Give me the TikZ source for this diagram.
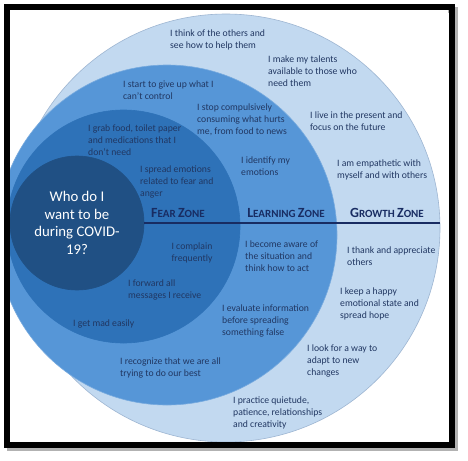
\documentclass[tikz,border=0pt]{standalone}
\usepackage{fontspec}
\setmainfont{Carlito}
\usetikzlibrary{positioning}
\definecolor{azulclaro}{RGB}{194,217,240}
\definecolor{azulmedio}{RGB}{86,150,215}
\definecolor{azulmedo}{RGB}{46,114,184}
\definecolor{azulescuro}{RGB}{32,80,132}
\definecolor{bordaazul}{RGB}{158,182,210}
\definecolor{textoazul}{RGB}{33,55,98}
\definecolor{linhaazul}{RGB}{24,44,98}
\newcommand{\versalete}[2]{{\fontsize{14}{14}\selectfont #1}{\fontsize{11}{14}\selectfont #2}}

\begin{document}
\begin{tikzpicture}[
      x=1pt, y=-1pt,
      anel/.style={circle, inner sep=0pt, draw=bordaazul, line width=0.6pt},
      frase/.style={anchor=north west, align=left, inner sep=0pt, text=textoazul,
                    font=\fontsize{9.7}{11.7}\selectfont},
      zona/.style={anchor=base, inner sep=0pt, text=linhaazul, font=\bfseries}
  ]
      \useasboundingbox (0,0) rectangle (468,460);

      % --- MOLDURA ---
      \fill[white] (0,0) rectangle (468,460);
      \draw[black!30, line width=6pt] (10,10) rectangle (455,448);
      \fill[white] (10,10) rectangle (448,442);

      % --- CÍRCULOS ---
      \begin{scope}
          \clip (10,10) rectangle (448,442);
          \node[anel, fill=azulclaro, minimum size=428pt] (externo) at (226,228) {};
          \node[anel, fill=azulmedio, draw=azulmedio!80!white, minimum size=340pt] (aprendizado) at (167,235) {};
          \node[anel, fill=azulmedo, draw=azulmedo, minimum size=233pt] (medo) at (123.5,226.5) {};
          \node[anel, fill=azulescuro, draw=azulescuro, minimum size=134pt, text=white, align=center,
                font=\fontsize{14.8}{17.7}\selectfont] (centro) at (77,223) {Who do I\\want to be\\during COVID-\\19?};
      \end{scope}
      \draw[line width=6pt] (7,7) rectangle (451.5,444.5);

      % --- LINHA E ZONAS ---
      \draw[linhaazul, line width=2.2pt] (centro.east) -- (centro.east -| externo.east);
      \node[zona] (zmedo)  at (178,217) {\versalete{F}{EAR} \versalete{Z}{ONE}};
      \node[zona] (zaprend) at (286,217) {\versalete{L}{EARNING} \versalete{Z}{ONE}};
      \node[zona] (zcresc) at (387,217) {\versalete{G}{ROWTH} \versalete{Z}{ONE}};

      % --- ZONA DO MEDO ---
      \node[frase] (medo1) at (88,125) {I grab food, toilet paper\\and medications that I\\don't need};
      \node[frase] (medo2) at (140,166) {I spread emotions\\related to fear and\\anger};
      \node[frase, anchor=north, align=center] (medo3) at (192,243) {I complain\\frequently};
      \node[frase] (medo4) at (128,280) {I forward all\\messages I receive};
      \node[frase] (medo5) at (73,320) {I get mad easily};

      % --- ZONA DE APRENDIZADO ---
      \node[frase] (aprend1) at (123,81) {I start to give up what I\\can't control};
      \node[frase] (aprend2) at (197,104) {I stop compulsively\\consuming what hurts\\me, from food to news};
      \node[frase] (aprend3) at (241,157) {I identify my\\emotions};
      \node[frase] (aprend4) at (245,241) {I become aware of\\the situation and\\think how to act};
      \node[frase] (aprend5) at (222,305) {I evaluate information\\before spreading\\something false};
      \node[frase] (aprend6) at (120,358) {I recognize that we are all\\trying to do our best};

      % --- ZONA DE CRESCIMENTO ---
      \node[frase] (cresc1) at (170,30) {I think of the others and\\see how to help them};
      \node[frase] (cresc2) at (268,56) {I make my talents\\available to those who\\need them};
      \node[frase] (cresc3) at (310,112) {I live in the present and\\focus on the future};
      \node[frase] (cresc4) at (337,160) {I am empathetic with\\myself and with others};
      \node[frase] (cresc5) at (347,247) {I thank and appreciate\\others};
      \node[frase] (cresc6) at (340,288) {I keep a happy\\emotional state and\\spread hope};
      \node[frase] (cresc7) at (307,345) {I look for a way to\\adapt to new\\changes};
      \node[frase] (cresc8) at (233,397) {I practice quietude,\\patience, relationships\\and creativity};

  \end{tikzpicture}
\end{document}
